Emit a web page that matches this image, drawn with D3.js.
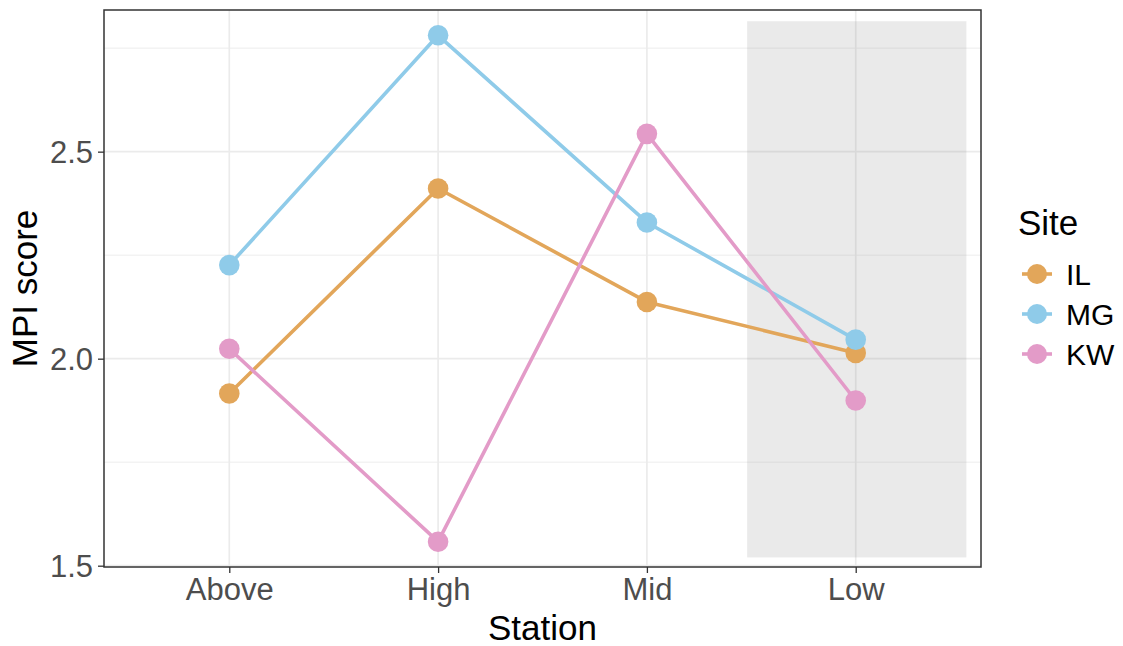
<!DOCTYPE html>
<html>
<head>
<meta charset="utf-8">
<script src="https://cdn.jsdelivr.net/npm/d3@7"></script>
<style>
  html, body { margin: 0; padding: 0; background: #ffffff; }
  svg { display: block; font-family: "Liberation Sans", Arial, sans-serif; }
</style>
</head>
<body>
<svg id="chart" width="1123" height="646"></svg>
<script>
// Stations along the x axis, sites as series
const stations = ["Above", "High", "Mid", "Low"];
const sites = ["IL", "MG", "KW"];

// Mean MPI score per station, one array per site
const scoreIL = [1.916, 2.411, 2.137, 2.014];
const scoreMG = [2.226, 2.781, 2.329, 2.046];
const scoreKW = [2.024, 1.558, 2.543, 1.899];

// Y axis tick labels
const yTicks = [1.5, 2.0, 2.5];
const yMinorTicks = [1.75, 2.25, 2.75];

// Shaded band around the Low station (x in station index units, y in score units)
const bandX = [3.48, 4.53];
const bandY = [1.52, 2.815];

const siteColors = { IL: "#E2A65A", MG: "#8FCBE9", KW: "#E39BC8" };

const series = [
  { site: "IL", values: scoreIL },
  { site: "MG", values: scoreMG },
  { site: "KW", values: scoreKW }
];

const panel = { left: 104, right: 981, top: 10, bottom: 567 };

const svg = d3.select("#chart");
svg.append("rect").attr("width", 1123).attr("height", 646).attr("fill", "#ffffff");

// Discrete stations on a continuous index scale (1..4) with 0.6 padding each side
const x = d3.scaleLinear()
  .domain([1 - 0.6, stations.length + 0.6])
  .range([panel.left, panel.right]);

const allVals = series.flatMap(s => s.values);
const [vMin, vMax] = d3.extent(allVals);
const pad = (vMax - vMin) * 0.05;
const y = d3.scaleLinear()
  .domain([vMin - pad, vMax + pad])
  .range([panel.bottom, panel.top]);

const g = svg.append("g");

// Grid lines
g.selectAll("line.minor")
  .data(yMinorTicks)
  .join("line")
  .attr("x1", panel.left).attr("x2", panel.right)
  .attr("y1", d => y(d)).attr("y2", d => y(d))
  .attr("stroke", "#EBEBEB").attr("stroke-width", 0.9);

g.selectAll("line.majorY")
  .data(yTicks)
  .join("line")
  .attr("x1", panel.left).attr("x2", panel.right)
  .attr("y1", d => y(d)).attr("y2", d => y(d))
  .attr("stroke", "#EBEBEB").attr("stroke-width", 1.7);

g.selectAll("line.majorX")
  .data(stations)
  .join("line")
  .attr("x1", (d, i) => x(i + 1)).attr("x2", (d, i) => x(i + 1))
  .attr("y1", panel.top).attr("y2", panel.bottom)
  .attr("stroke", "#EBEBEB").attr("stroke-width", 1.7);

// Translucent band
g.append("rect")
  .attr("x", x(bandX[0]))
  .attr("width", x(bandX[1]) - x(bandX[0]))
  .attr("y", y(bandY[1]))
  .attr("height", y(bandY[0]) - y(bandY[1]))
  .attr("fill", "#7F7F7F")
  .attr("fill-opacity", 0.16);

// Lines
const line = d3.line()
  .x((d, i) => x(i + 1))
  .y(d => y(d));

g.selectAll("path.series")
  .data(series)
  .join("path")
  .attr("d", d => line(d.values))
  .attr("fill", "none")
  .attr("stroke", d => siteColors[d.site])
  .attr("stroke-width", 3.6)
  .attr("stroke-linejoin", "round");

// Points
series.forEach(s => {
  g.selectAll(null)
    .data(s.values)
    .join("circle")
    .attr("cx", (d, i) => x(i + 1))
    .attr("cy", d => y(d))
    .attr("r", 10.3)
    .attr("fill", siteColors[s.site]);
});

// Panel border
g.append("rect")
  .attr("x", panel.left).attr("y", panel.top)
  .attr("width", panel.right - panel.left)
  .attr("height", panel.bottom - panel.top)
  .attr("fill", "none")
  .attr("stroke", "#333333")
  .attr("stroke-width", 1.5);

// Y axis
const yAxis = d3.axisLeft(y)
  .tickValues(yTicks)
  .tickFormat(d3.format(".1f"))
  .tickSize(6)
  .tickPadding(5);
const yAx = svg.append("g")
  .attr("transform", `translate(${panel.left},0)`)
  .call(yAxis);
yAx.select(".domain").remove();
yAx.selectAll(".tick line").attr("stroke", "#333333").attr("stroke-width", 1.3);
yAx.selectAll(".tick text")
  .attr("fill", "#4D4D4D")
  .style("font-size", "31px")
  .attr("dy", "0.36em");

// X axis
const xAxis = d3.axisBottom(x)
  .tickValues(stations.map((d, i) => i + 1))
  .tickFormat((d) => stations[d - 1])
  .tickSize(6)
  .tickPadding(5);
const xAx = svg.append("g")
  .attr("transform", `translate(0,${panel.bottom})`)
  .call(xAxis);
xAx.select(".domain").remove();
xAx.selectAll(".tick line").attr("stroke", "#333333").attr("stroke-width", 1.3);
xAx.selectAll(".tick text")
  .attr("fill", "#4D4D4D")
  .style("font-size", "31px")
  .attr("dy", "0.72em");

// Axis titles
svg.append("text")
  .attr("x", (panel.left + panel.right) / 2)
  .attr("y", 640)
  .attr("text-anchor", "middle")
  .style("font-size", "35px")
  .attr("fill", "#000000")
  .text("Station");

svg.append("text")
  .attr("transform", `translate(37,${(panel.top + panel.bottom) / 2}) rotate(-90)`)
  .attr("text-anchor", "middle")
  .style("font-size", "35px")
  .attr("fill", "#000000")
  .text("MPI score");

// Legend
const legend = svg.append("g");
legend.append("text")
  .attr("x", 1018).attr("y", 235)
  .style("font-size", "35px")
  .attr("fill", "#000000")
  .text("Site");

const legendY = d3.scalePoint().domain(sites).range([274, 354]);
const items = legend.selectAll("g.item")
  .data(sites)
  .join("g")
  .attr("transform", d => `translate(0,${legendY(d)})`);
items.append("line")
  .attr("x1", 1022).attr("x2", 1052)
  .attr("stroke", d => siteColors[d]).attr("stroke-width", 3.6);
items.append("circle")
  .attr("cx", 1037).attr("r", 10)
  .attr("fill", d => siteColors[d]);
items.append("text")
  .attr("x", 1066).attr("y", 11)
  .style("font-size", "30px")
  .attr("fill", "#000000")
  .text(d => d);
</script>
</body>
</html>
